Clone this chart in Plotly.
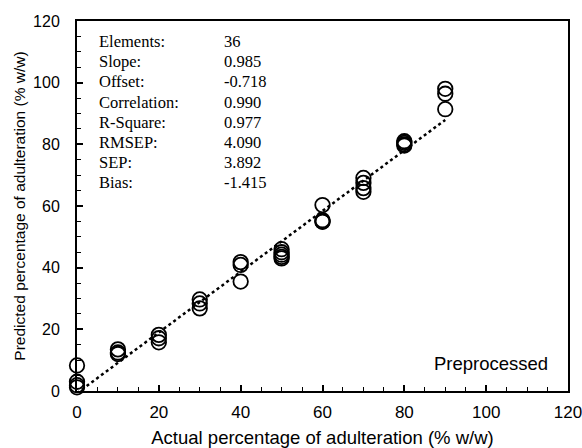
import plotly.graph_objects as go

actual = [0, 0, 0, 0,
          10, 10, 10,
          20, 20, 20,
          30, 30, 30,
          40, 40, 40,
          50, 50, 50, 50, 50,
          60, 60, 60, 60,
          70, 70, 70, 70,
          80, 80, 80, 80,
          90, 90, 90]
predicted = [8.3, 3.0, 1.9, 1.2,
             13.5, 12.0, 12.5,
             18.2, 17.1, 15.8,
             29.7, 28.4, 26.8,
             41.8, 40.9, 35.5,
             46.0, 45.0, 44.2, 43.5, 43.0,
             60.3, 55.4, 54.9, 55.0,
             69.1, 67.5, 65.8, 64.6,
             81.0, 80.5, 80.0, 79.6,
             98.0, 96.4, 91.4]

slope = 0.985
offset = -0.718
fit_x = [0, 90]

stat_names = ["Elements:", "Slope:", "Offset:", "Correlation:", "R-Square:", "RMSEP:", "SEP:", "Bias:"]
stat_values = ["36", "0.985", "-0.718", "0.990", "0.977", "4.090", "3.892", "-1.415"]

fig = go.Figure()
fig.add_trace(go.Scatter(
    x=fit_x, y=[slope * v + offset for v in fit_x], mode="lines",
    line=dict(color="black", width=2.5, dash="dot"), showlegend=False))
fig.add_trace(go.Scatter(
    x=actual, y=predicted, mode="markers", cliponaxis=False,
    marker=dict(symbol="circle-open", size=14.5, color="black", line=dict(width=1.8)),
    showlegend=False))

y_start = 113.2
step = 6.49
for i, (n, v) in enumerate(zip(stat_names, stat_values)):
    yy = y_start - i * step
    fig.add_annotation(x=4.9, y=yy, text=n, showarrow=False, xanchor="left", yanchor="middle",
                       font=dict(family="Liberation Serif", size=16.5, color="black"))
    fig.add_annotation(x=35.4, y=yy, text=v, showarrow=False, xanchor="left", yanchor="middle",
                       font=dict(family="Liberation Serif", size=16.5, color="black"))

fig.add_annotation(x=115.5, y=8.8, text="Preprocessed", showarrow=False, xanchor="right", yanchor="middle",
                   font=dict(family="Liberation Sans", size=18.5, color="black"))

axis_common = dict(
    range=[0, 120], dtick=20, showgrid=False, zeroline=False, automargin=False,
    showline=True, linecolor="black", linewidth=2, mirror=True,
    ticks="inside", ticklen=6, tickwidth=1.5, tickcolor="black",
    ticklabeloverflow="allow",
    minor=dict(ticks="inside", ticklen=4, dtick=5, tickwidth=1, tickcolor="black"),
)
fig.update_layout(
    width=582, height=448,
    margin=dict(l=77, r=14, t=21, b=57),
    paper_bgcolor="white", plot_bgcolor="white",
    xaxis=dict(axis_common, ticklabelstandoff=5,
               tickfont=dict(family="Liberation Sans", size=17, color="black"),
               title=dict(text="Actual percentage of adulteration (% w/w)",
               font=dict(family="Liberation Sans", size=18.5, color="black"), standoff=10)),
    yaxis=dict(axis_common, ticklabelstandoff=12,
               tickfont=dict(family="Liberation Sans", size=16, color="black"),
               title=dict(text="Predicted percentage of adulteration (% w/w)",
               font=dict(family="Liberation Sans", size=15.5, color="black"), standoff=4)),
)
fig.write_html("out.html")
